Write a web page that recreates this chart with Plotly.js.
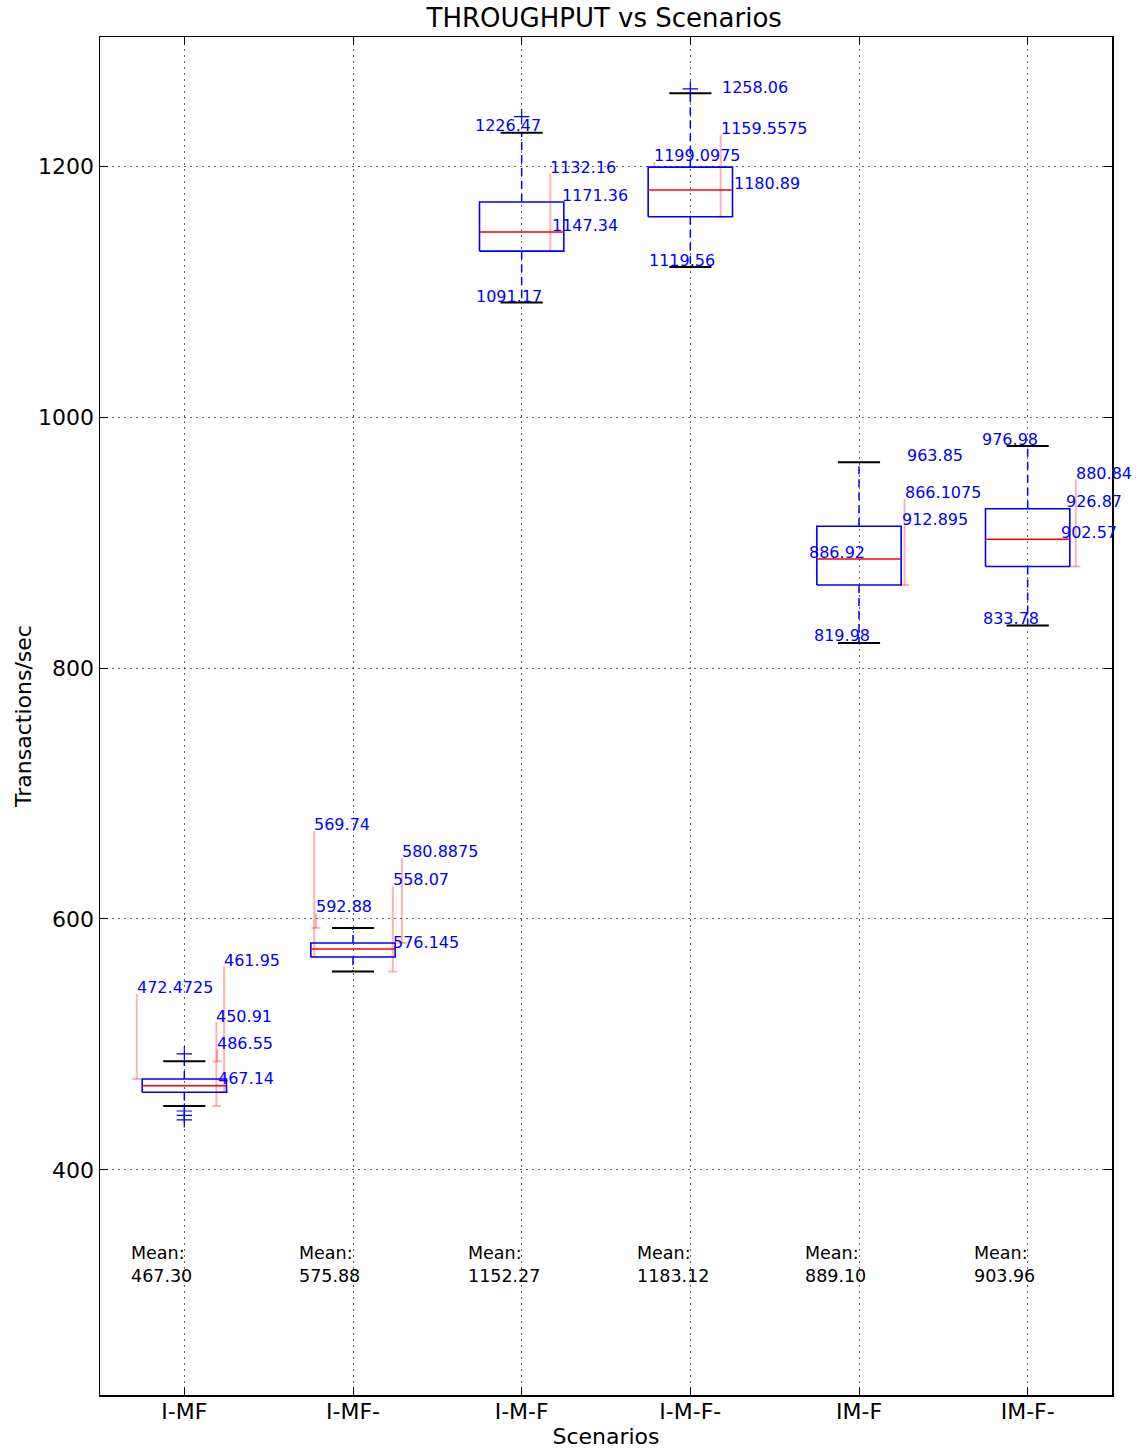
<!DOCTYPE html>
<html>
<head>
<meta charset="utf-8">
<script src="https://cdn.plot.ly/plotly-3.0.1.min.js"></script>
<style>html,body{margin:0;padding:0;background:#fff;}#chart{width:1140px;height:1455px;}</style>
</head>
<body>
<div id="chart"></div>
<script>
// ---- data ----
const categories = ['I-MF', 'I-MF-', 'I-M-F', 'I-M-F-', 'IM-F', 'IM-F-'];
const q1 = [461.95, 569.74, 1132.16, 1159.5575, 866.1075, 880.84];
const median = [467.14, 576.145, 1147.34, 1180.89, 886.92, 902.57];
const q3 = [472.4725, 580.8875, 1171.36, 1199.0975, 912.895, 926.87];
const whiskerLow = [450.91, 558.07, 1091.17, 1119.56, 819.98, 833.78];
const whiskerHigh = [486.55, 592.88, 1226.47, 1258.06, 963.85, 976.98];
const means = [467.30, 575.88, 1152.27, 1183.12, 889.10, 903.96];
const outliers = [[492.5, 447.0, 443.5, 440.0], [], [1239.3], [1261.5], [], []];

// label placement (x offset from box centre, y of label in data units)
const q1LabelDx = [0.236, -0.23, 0.17, 0.18, 0.27, 0.285];
const q1LabelY = [567.3, 674.9, 1199.0, 1230.0, 940.0, 955.2];
const q3LabelDx = [-0.282, 0.29, 0.24, -0.213, 0.253, 0.23];
const q3LabelY = [545.4, 653.6, 1176.3, 1208.2, 918.5, 932.6];
const medLabelDx = [0.2, 0.24, 0.18, 0.26, -0.296, 0.2];
const medLabelY = [473.1, 581.1, 1152.4, 1185.7, 892.2, 908.2];
const whHighLabelDx = [0.195, -0.22, -0.276, 0.186, 0.283, -0.273];
const whHighLabelY = [501.0, 609.6, 1231.9, 1262.7, 969.2, 981.7];
const whLowLabelDx = [0.19, 0.236, -0.27, -0.243, -0.265, -0.267];
const whLowLabelY = [522.7, 631.1, 1095.9, 1124.5, 825.7, 839.1];
const meanLabelDx = -0.312;
const meanLabelY = 325;

// ---- styles ----
const BOX_HALF = 0.25, CAP_HALF = 0.125, TICK_HALF = 0.027, LINE_GAP = 5, MIN_LEADER = 2;
const FONT = 'DejaVu Sans, Liberation Sans, sans-serif';

const pos = categories.map((_, i) => i + 1);

// box outlines
const bx = [], by = [];
pos.forEach((p, i) => {
  bx.push(p - BOX_HALF, p + BOX_HALF, p + BOX_HALF, p - BOX_HALF, p - BOX_HALF, null);
  by.push(q1[i], q1[i], q3[i], q3[i], q1[i], null);
});
// medians
const mx = [], my = [];
pos.forEach((p, i) => { mx.push(p - BOX_HALF, p + BOX_HALF, null); my.push(median[i], median[i], null); });
// whiskers
const wx = [], wy = [];
pos.forEach((p, i) => {
  wx.push(p, p, null, p, p, null);
  wy.push(q3[i], whiskerHigh[i], null, q1[i], whiskerLow[i], null);
});
// caps
const cx = [], cy = [];
pos.forEach((p, i) => {
  cx.push(p - CAP_HALF, p + CAP_HALF, null, p - CAP_HALF, p + CAP_HALF, null);
  cy.push(whiskerHigh[i], whiskerHigh[i], null, whiskerLow[i], whiskerLow[i], null);
});
// outliers
const ox = [], oy = [];
outliers.forEach((arr, i) => arr.forEach(v => { ox.push(pos[i]); oy.push(v); }));

// labels + pink leader lines
const labelSets = [
  [q1, q1LabelDx, q1LabelY],
  [q3, q3LabelDx, q3LabelY],
  [median, medLabelDx, medLabelY],
  [whiskerHigh, whHighLabelDx, whHighLabelY],
  [whiskerLow, whLowLabelDx, whLowLabelY]
];
const annotations = [];
const px = [], py = [];
labelSets.forEach(([vals, dxs, ys]) => {
  vals.forEach((v, i) => {
    const lx = pos[i] + dxs[i];
    annotations.push({
      x: lx, y: ys[i], xref: 'x', yref: 'y', text: String(v), showarrow: false,
      xanchor: 'left', yanchor: 'middle', borderpad: 0, xshift: -1,
      font: {family: FONT, size: 16, color: '#0000ff'}
    });
    const top = ys[i] - LINE_GAP;
    if (top - v > MIN_LEADER) {
      px.push(lx, lx, null, lx - TICK_HALF, lx + TICK_HALF, null);
      py.push(top, v, null, v, v, null);
    }
  });
});
means.forEach((m, i) => {
  annotations.push({
    x: pos[i] + meanLabelDx, y: meanLabelY, xref: 'x', yref: 'y',
    text: 'Mean:<br>' + m.toFixed(2), showarrow: false, align: 'left',
    xanchor: 'left', yanchor: 'middle', borderpad: 0, xshift: -2,
    font: {family: FONT, size: 17.5, color: '#000000'}
  });
});

const traces = [
  {x: px, y: py, mode: 'lines', line: {color: 'rgba(255,0,0,0.3)', width: 2}, hoverinfo: 'skip'},
  {x: wx, y: wy, mode: 'lines', line: {color: '#0000ff', width: 1.5, dash: '8px,5px'}, hoverinfo: 'skip'},
  {x: cx, y: cy, mode: 'lines', line: {color: '#000000', width: 2}, hoverinfo: 'skip'},
  {x: bx, y: by, mode: 'lines', line: {color: '#0000ff', width: 1.6}, hoverinfo: 'skip'},
  {x: mx, y: my, mode: 'lines', line: {color: '#ff0000', width: 1.5}, hoverinfo: 'skip'},
  {x: ox, y: oy, mode: 'markers', marker: {symbol: 'cross-thin-open', size: 11, color: '#0000ff', line: {color: '#0000ff', width: 1.2}}, hoverinfo: 'skip'}
];

const layout = {
  width: 1140, height: 1455,
  margin: {l: 100, r: 28, t: 37, b: 60},
  paper_bgcolor: '#ffffff', plot_bgcolor: '#ffffff',
  showlegend: false,
  font: {family: FONT, size: 22, color: '#000000'},
  title: {text: 'THROUGHPUT vs Scenarios', font: {family: FONT, size: 26, color: '#000'},
          x: 0.53, xanchor: 'center', y: 1 - 18 / 1455, yanchor: 'middle', yref: 'container'},
  xaxis: {
    range: [0.5, 6.5], tickmode: 'array', tickvals: pos, ticktext: categories,
    showgrid: true, gridcolor: 'rgba(0,0,0,0.6)', griddash: '2px,4px', gridwidth: 1,
    zeroline: false, showline: true, linecolor: '#000', linewidth: 1.5, mirror: 'ticks',
    ticks: 'inside', ticklen: 8, tickcolor: '#000', tickfont: {size: 22}, ticklabelstandoff: -4,
    title: {text: 'Scenarios', font: {size: 22}, standoff: 0}
  },
  yaxis: {
    range: [220.7, 1302.8], tick0: 0, dtick: 200,
    showgrid: true, gridcolor: 'rgba(0,0,0,0.6)', griddash: '2px,4px', gridwidth: 1,
    zeroline: false, showline: true, linecolor: '#000', linewidth: 1.5, mirror: 'ticks',
    ticks: 'inside', ticklen: 8, tickcolor: '#000', tickfont: {size: 22},
    title: {text: 'Transactions/sec', font: {size: 22}, standoff: 0}
  },
  annotations: annotations
};

Plotly.newPlot('chart', traces, layout, {displayModeBar: false, staticPlot: true});
</script>
</body>
</html>
